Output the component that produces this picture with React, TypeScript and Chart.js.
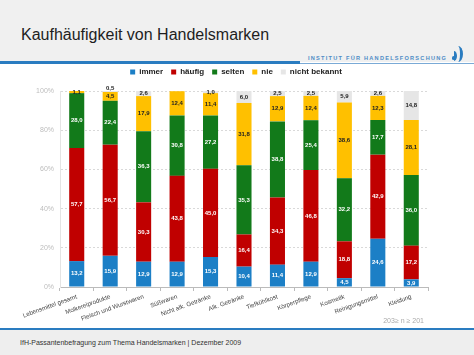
import React, { useEffect, useRef } from "react";
import { Chart, registerables } from "chart.js";

Chart.register(...registerables);

const categories = [
  "Lebensmittel gesamt",
  "Molkereiprodukte",
  "Fleisch und Wurstwaren",
  "Süßwaren",
  "Nicht alk. Getränke",
  "Alk. Getränke",
  "Tiefkühlkost",
  "Körperpflege",
  "Kosmetik",
  "Reinigungsmittel",
  "Kleidung",
];

const immer = [13.2, 15.9, 12.9, 12.9, 15.3, 10.4, 11.4, 12.9, 4.5, 24.6, 3.9];
const haeufig = [57.7, 56.7, 30.3, 43.8, 45.0, 16.4, 34.3, 46.8, 18.8, 42.9, 17.2];
const selten = [28.0, 22.4, 36.3, 30.8, 27.2, 35.3, 38.8, 25.4, 32.2, 17.7, 36.0];
const nie = [1.1, 4.5, 17.9, 12.4, 11.4, 31.8, 12.9, 12.4, 38.6, 12.3, 28.1];
const nichtBekannt = [0, 0.5, 2.6, 0, 1.0, 6.0, 2.5, 2.5, 5.9, 2.6, 14.8];

const seriesNames = ["immer", "häufig", "selten", "nie", "nicht bekannt"];
const seriesColors = ["#1c7fc6", "#c00000", "#127a1a", "#ffc000", "#e6e6e6"];
const seriesLabelColors = ["#ffffff", "#ffffff", "#ffffff", "#222222", "#222222"];
const yTickValues = [0, 20, 40, 60, 80, 100];

const FONT = "'Liberation Sans', Arial, sans-serif";
const LEGEND_EXTRA = 5;
const LEGEND_SHIFT = 22;

const valueLabels = {
  id: "valueLabels",
  afterDatasetsDraw(chart: any) {
    const ctx = chart.ctx;
    ctx.save();
    ctx.font = `bold 6px ${FONT}`;
    ctx.textAlign = "center";
    ctx.textBaseline = "middle";
    chart.data.datasets.forEach((ds: any, di: number) => {
      const meta = chart.getDatasetMeta(di);
      meta.data.forEach((bar: any, i: number) => {
        const v = ds.data[i];
        if (!v) return;
        const p = bar.getProps(["x", "y", "base"], true);
        let cy = (p.y + p.base) / 2;
        if (v < 1) cy = p.y - 3;
        ctx.fillStyle = seriesLabelColors[di];
        ctx.fillText(v.toFixed(1).replace(".", ","), p.x, cy);
      });
    });
    ctx.restore();
  },
};

const legendPatch = {
  id: "legendPatch",
  beforeLayout(chart: any) {
    const lg = chart.legend;
    if (lg && !lg.__patched) {
      const orig = lg.fit.bind(lg);
      lg.fit = () => {
        orig();
        lg.height += LEGEND_EXTRA;
      };
      lg.__patched = true;
    }
  },
  afterLayout(chart: any) {
    const lg = chart.legend;
    if (lg) {
      lg.left += LEGEND_SHIFT;
      lg.right += LEGEND_SHIFT;
    }
  },
};

function ChartBox() {
  const ref = useRef<HTMLCanvasElement | null>(null);
  useEffect(() => {
    if (!ref.current) return;
    const data = [immer, haeufig, selten, nie, nichtBekannt];
    const chart = new Chart(ref.current, {
      type: "bar",
      data: {
        labels: categories,
        datasets: seriesNames.map((name, i) => ({
          label: name,
          data: data[i],
          backgroundColor: seriesColors[i],
          borderWidth: 0,
          barPercentage: 0.45,
          categoryPercentage: 1,
        })),
      },
      options: {
        responsive: false,
        animation: false,
        layout: { padding: { left: 0, right: 46, top: 0, bottom: 0 } },
        plugins: {
          legend: {
            display: true,
            position: "top",
            labels: {
              boxWidth: 5,
              boxHeight: 5,
              padding: 8,
              color: "#222",
              font: { family: FONT, size: 8, weight: "bold" },
            },
          },
          tooltip: { enabled: false },
        },
        scales: {
          x: {
            stacked: true,
            grid: {
              display: true,
              drawOnChartArea: false,
              drawTicks: true,
              tickLength: 4,
              color: "#bbbbbb",
            },
            border: { display: true, color: "#bbbbbb" },
            ticks: {
              autoSkip: false,
              maxRotation: 20,
              minRotation: 20,
              padding: 2,
              color: "#444",
              font: { family: FONT, size: 6.2 },
            },
            afterFit: (s: any) => {
              s.height = 39;
            },
          },
          y: {
            stacked: true,
            min: 0,
            max: 100,
            afterBuildTicks: (s: any) => {
              s.ticks = yTickValues.map((v) => ({ value: v }));
            },
            afterFit: (s: any) => {
              s.width = 60;
            },
            grid: {
              color: "#d9d9d9",
              drawTicks: false,
            },
            border: { display: true, color: "#e4e4e4", dash: [2, 2] },
            ticks: {
              padding: 6,
              color: "#bdbdbd",
              font: { family: FONT, size: 7 },
              callback: (v: any) => `${v}%`,
            },
          },
        },
      },
      plugins: [valueLabels, legendPatch],
    } as any);
    return () => chart.destroy();
  }, []);
  return <canvas ref={ref} width={474} height={266} style={{ position: "absolute", left: 0, top: 60 }} />;
}

export default function App() {
  return (
    <div
      style={{
        position: "absolute",
        left: 0,
        top: 0,
        width: 474,
        height: 355,
        overflow: "hidden",
        background: "#ffffff",
        fontFamily: FONT,
      }}
    >
      <div style={{ position: "absolute", left: 0, top: 0, width: 474, height: 62, background: "#f0f0f0" }} />
      <div
        style={{
          position: "absolute",
          left: 21,
          top: 26.5,
          fontSize: 16,
          lineHeight: "16px",
          color: "#1e1e1e",
          whiteSpace: "nowrap",
        }}
      >
        Kaufhäufigkeit von Handelsmarken
      </div>
      <div style={{ position: "absolute", left: 0, top: 61, width: 300, height: 3, background: "#2a7cc0" }} />
      <div style={{ position: "absolute", left: 300, top: 63, width: 174, height: 1, background: "#7aaad6" }} />
      <div
        style={{
          position: "absolute",
          left: 308,
          top: 55,
          fontSize: 5.6,
          lineHeight: "7px",
          letterSpacing: "1.25px",
          color: "#4f8cc6",
          fontWeight: "bold",
          whiteSpace: "nowrap",
        }}
      >
        INSTITUT FÜR HANDELSFORSCHUNG
      </div>
      <div style={{ position: "absolute", left: 452, top: 56, width: 3, height: 4, borderRadius: 2, background: "#2a7cc0" }} />
      <div
        style={{
          position: "absolute",
          left: 451,
          top: 51,
          width: 6,
          height: 10,
          boxSizing: "border-box",
          borderRight: "3px solid #2a7cc0",
          borderRadius: "0 50% 50% 0",
        }}
      />
      <div
        style={{
          position: "absolute",
          left: 453,
          top: 46,
          width: 10,
          height: 16,
          boxSizing: "border-box",
          borderRight: "3px solid #2a7cc0",
          borderRadius: "0 60% 60% 0",
        }}
      />
      <ChartBox />
      <div
        style={{
          position: "absolute",
          right: 474 - 424,
          top: 317,
          fontSize: 7,
          lineHeight: "8px",
          color: "#aaaaaa",
          whiteSpace: "nowrap",
        }}
      >
        203≥ n ≥ 201
      </div>
      <div style={{ position: "absolute", left: 0, top: 328, width: 474, height: 2, background: "#2a7cc0" }} />
      <div style={{ position: "absolute", left: 0, top: 330, width: 474, height: 25, background: "#eeeeee" }} />
      <div
        style={{
          position: "absolute",
          left: 20,
          top: 339,
          fontSize: 7,
          lineHeight: "8px",
          color: "#333",
          whiteSpace: "nowrap",
        }}
      >
        IfH-Passantenbefragung zum Thema Handelsmarken | Dezember 2009
      </div>
    </div>
  );
}
